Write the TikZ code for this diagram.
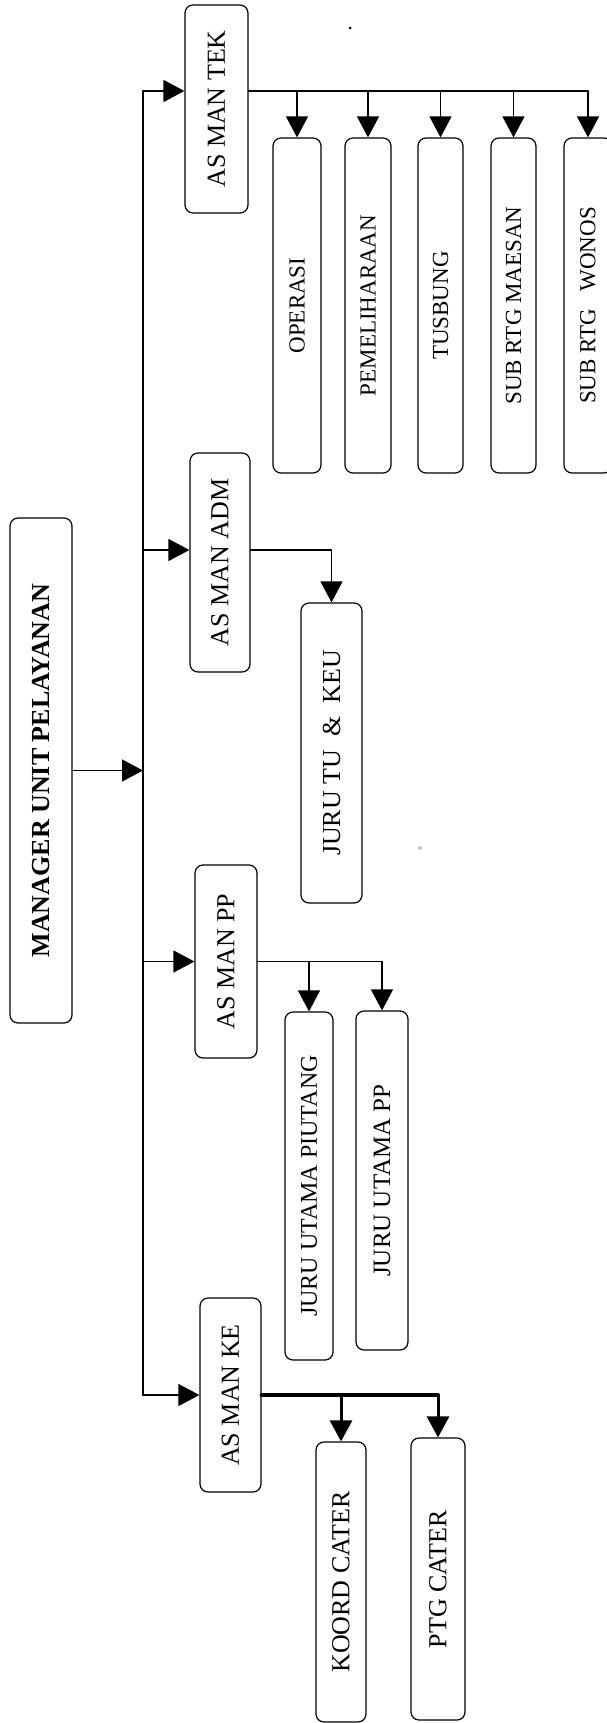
\documentclass[tikz,border=0pt]{standalone}
\usepackage{fontspec}
\setmainfont{Liberation Serif}
\usetikzlibrary{positioning,calc,arrows.meta}

\begin{document}
\begin{tikzpicture}[x=1pt, y=-1pt, line cap=round]
  \tikzset{kotak/.style={draw, rounded corners=8pt, line width=1.2pt, rotate=90, inner sep=0pt, font=\fontsize{26}{28}\selectfont}}
  \tikzset{garis/.style={line width=1.3pt}}
  \tikzset{panah/.style={line width=1.3pt, -{Triangle[length=21pt,width=22pt]}}}
  \useasboundingbox (0,0) rectangle (607,1723);
  % manajer
  \node[kotak, minimum width=505pt, minimum height=62pt] (mgr) at (41,770.5) {\bfseries MANAGER UNIT PELAYANAN};
  % asisten manajer
  \node[kotak, minimum width=208pt, minimum height=63pt] (tek) at (216.5,109) {AS MAN TEK};
  \node[kotak, minimum width=219pt, minimum height=60pt] (adm) at (220,562.5) {AS MAN ADM};
  \node[kotak, minimum width=193pt, minimum height=62pt] (pp) at (226,961.5) {AS MAN PP};
  \node[kotak, minimum width=194pt, minimum height=61pt] (ke) at (230.5,1395) {AS MAN KE};
  % bawahan teknik
  \node[kotak, minimum width=335pt, minimum height=48pt, font=\fontsize{23}{25}\selectfont] (operasi) at (297,305.5) {OPERASI};
  \node[kotak, minimum width=335pt, minimum height=46pt, font=\fontsize{23}{25}\selectfont] (pemel) at (368,305.5) {PEMELIHARAAN};
  \node[kotak, minimum width=335pt, minimum height=45pt, font=\fontsize{23}{25}\selectfont] (tusbung) at (440.5,305.5) {TUSBUNG};
  \node[kotak, minimum width=335pt, minimum height=45pt, font=\fontsize{23}{25}\selectfont] (maesan) at (513.5,305.5) {SUB RTG MAESAN};
  \node[kotak, minimum width=335pt, minimum height=48pt, font=\fontsize{23}{25}\selectfont] (wonos) at (588,305.5) {SUB RTG\ \ \ WONOS};
  % bawahan adm, pp, ke
  \node[kotak, minimum width=300pt, minimum height=61pt] (juru) at (331.5,753) {JURU TU\ \ \&\ \ KEU};
  \node[kotak, minimum width=348pt, minimum height=48pt, font=\fontsize{24}{26}\selectfont] (piutang) at (309,1186) {JURU UTAMA PIUTANG};
  \node[kotak, minimum width=339pt, minimum height=52pt, font=\fontsize{25}{27}\selectfont] (jupp) at (382,1180.5) {JURU UTAMA PP};
  \node[kotak, minimum width=280pt, minimum height=50pt] (koord) at (341,1582) {KOORD CATER};
  \node[kotak, minimum width=282pt, minimum height=54pt] (ptg) at (438,1579) {PTG CATER};
  % titik kecil
  \fill (350,28) circle (1.5pt);
  \fill[brown!50] (420,848) circle (2pt);
  % garis induk
  \coordinate (spA) at (143,91);
  \coordinate (spB) at (143,1395);
  \coordinate (spAdm) at (143,550);
  \draw[garis, {Triangle[length=21pt,width=22pt]}-{Triangle[length=21pt,width=22pt]}] (spA -| tek.north) -- (spA) -- (spB) -- (ke.north);
  \draw[panah] (mgr.south) -- (mgr.south -| spA);
  \draw[panah] (spAdm) -- (spAdm -| adm.north);
  \draw[panah] (pp.north -| spA) -- (pp.north);
  % cabang teknik
  \draw[garis] (tek.south |- spA) -- (wonos.east |- spA);
  \foreach \n in {operasi,pemel,tusbung,maesan,wonos}
    \draw[panah] (\n.east |- spA) -- (\n.east);
  % cabang adm
  \draw[panah] (adm.south |- spAdm) -- (juru.east |- spAdm) -- (juru.east);
  % cabang pp
  \draw[garis] (pp.south) -- (jupp.east |- pp.south);
  \draw[panah] (piutang.east |- pp.south) -- (piutang.east);
  \draw[panah] (jupp.east |- pp.south) -- (jupp.east);
  % cabang ke
  \draw[line width=4pt] (ke.south) -- (ptg.east |- ke.south);
  \draw[panah, line width=3pt] (koord.east |- ke.south) -- (koord.east);
  \draw[panah, line width=3pt] (ptg.east |- ke.south) -- (ptg.east);
\end{tikzpicture}
\end{document}
